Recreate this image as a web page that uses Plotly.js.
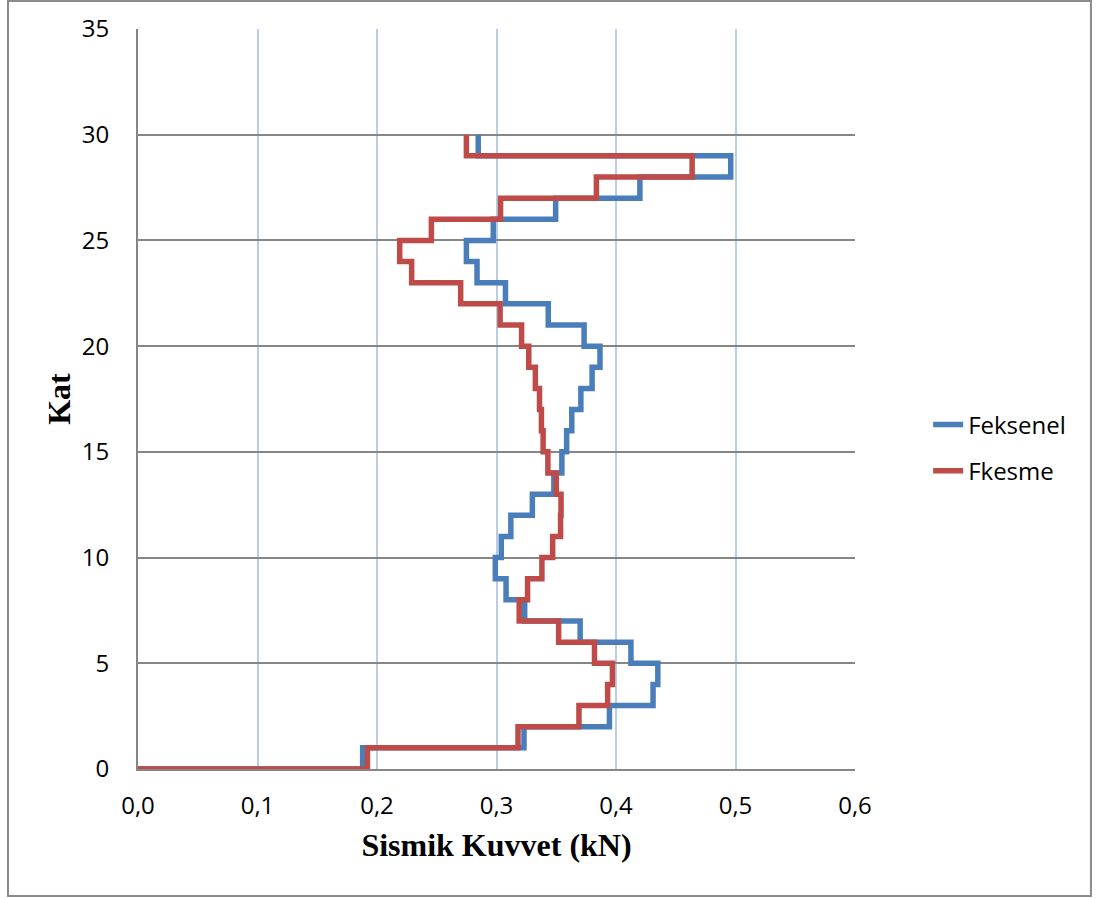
<!DOCTYPE html>
<html>
<head>
<meta charset="utf-8">
<script src="https://cdn.plot.ly/plotly-3.0.1.min.js"></script>
<style>html,body{margin:0;padding:0;background:#fff;}#chart{width:1096px;height:899px;}</style>
</head>
<body>
<div id="chart"></div>
<script>
const floors = [0,1,2,3,4,5,6,7,8,9,10,11,12,13,14,15,16,17,18,19,20,21,22,23,24,25,26,27,28,29,30];
const feksenel = [0, 0.188, 0.323, 0.3945, 0.431, 0.435, 0.4125, 0.370, 0.3236, 0.308, 0.299,
  0.304, 0.312, 0.330, 0.348, 0.3547, 0.3587, 0.363, 0.3706, 0.380, 0.3866,
  0.3733, 0.3433, 0.3075, 0.2837, 0.2748, 0.2973, 0.3495, 0.420, 0.496, 0.2847];
const fkesme = [0, 0.192, 0.318, 0.369, 0.393, 0.397, 0.382, 0.352, 0.319, 0.326, 0.338,
  0.347, 0.3536, 0.354, 0.350, 0.343, 0.339, 0.3376, 0.336, 0.3325, 0.327,
  0.321, 0.303, 0.270, 0.229, 0.219, 0.2455, 0.3034, 0.3836, 0.4637, 0.2748];
const seriesNames = ['Feksenel', 'Fkesme'];
const xTitle = 'Sismik Kuvvet (kN)';
const yTitle = 'Kat';

const traces = [
  {x: feksenel, y: floors, name: seriesNames[0], type: 'scatter', mode: 'lines',
   line: {color: '#4A7EBB', width: 5.5, shape: 'hv'}, legendgroup: 'a'},
  {x: fkesme, y: floors, name: seriesNames[1], type: 'scatter', mode: 'lines',
   line: {color: '#BE4B48', width: 5.5, shape: 'hv'}, legendgroup: 'b'}
];

const tickFont = {family: 'Open Sans, sans-serif', size: 24, color: '#000'};
const titleFont = {family: 'Liberation Serif, Times New Roman, serif', size: 32, color: '#000', weight: 'bold'};

const layout = {
  width: 1096, height: 899,
  margin: {l: 138, r: 241, t: 29, b: 130, pad: 0},
  paper_bgcolor: '#fff', plot_bgcolor: '#fff',
  separators: ', ',
  showlegend: true,
  legend: {x: 1.102, xanchor: 'left', y: 0.434, yanchor: 'middle',
           font: {family: 'Open Sans, sans-serif', size: 24, color: '#000'},
           tracegroupgap: 12, bgcolor: 'rgba(0,0,0,0)'},
  xaxis: {range: [0, 0.6], dtick: 0.1, tick0: 0, tickformat: '.1f',
          showgrid: true, gridcolor: '#B9CDE5', gridwidth: 1.5,
          showline: true, linecolor: '#868686', linewidth: 2, mirror: false,
          zeroline: false, ticks: '', tickfont: tickFont, ticklabelstandoff: 14,
          title: {text: '<b>' + xTitle + '</b>', font: titleFont, standoff: 14}},
  yaxis: {range: [0, 35], dtick: 5, tick0: 0,
          showgrid: true, gridcolor: '#868686', gridwidth: 2,
          showline: true, linecolor: '#868686', linewidth: 2,
          zeroline: false, ticks: '', tickfont: tickFont, ticklabelstandoff: 22,
          title: {text: '<b>' + yTitle + '</b>', font: titleFont, standoff: 2}},
  shapes: [
    {type: 'rect', xref: 'paper', yref: 'paper', x0: -0.1813, x1: 1.3291, y0: -0.1716, y1: 1.0378,
     line: {color: '#8c8c8c', width: 2}, fillcolor: 'rgba(0,0,0,0)', layer: 'below'}
  ]
};

Plotly.newPlot('chart', traces, layout, {displayModeBar: false, responsive: false});
</script>
</body>
</html>
